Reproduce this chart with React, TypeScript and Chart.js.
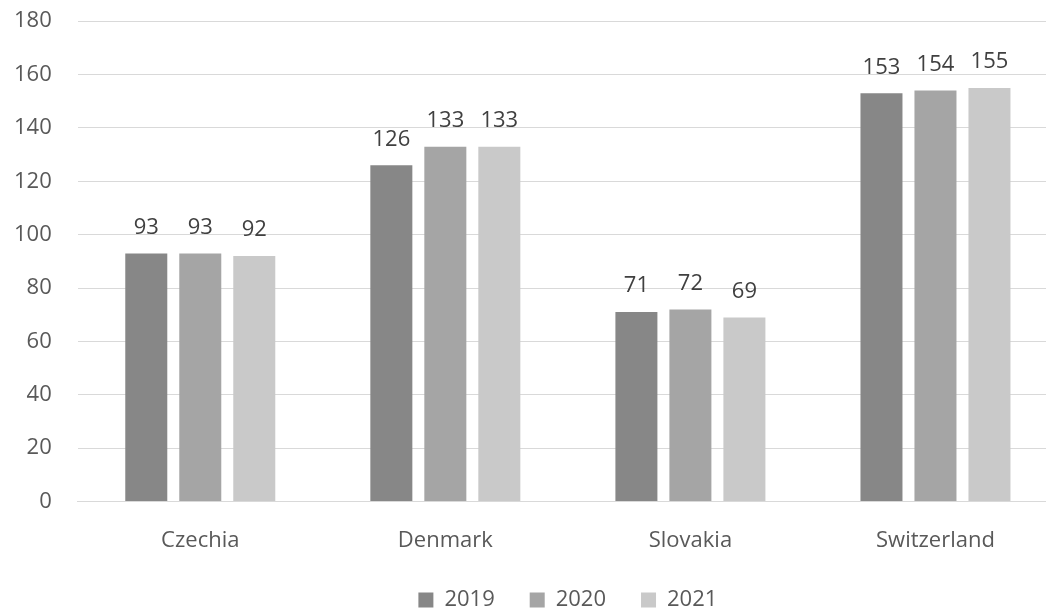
import React, { useEffect, useRef } from "react";
import { Chart, registerables } from "chart.js";

Chart.register(...registerables);

const categories = ["Czechia", "Denmark", "Slovakia", "Switzerland"];
const seriesNames = ["2019", "2020", "2021"];
const values2019 = [93, 126, 71, 153];
const values2020 = [93, 133, 72, 154];
const values2021 = [92, 133, 69, 155];
const seriesColors = ["#878787", "#a5a5a5", "#c9c9c9"];
const FONT = "'Open Sans', 'DejaVu Sans', sans-serif";

const labelPlugin = {
  id: "barLabels",
  afterDatasetsDraw(chart: any) {
    const ctx = chart.ctx;
    ctx.save();
    ctx.font = `22px ${FONT}`;
    ctx.fillStyle = "#404040";
    ctx.textAlign = "center";
    ctx.textBaseline = "bottom";
    chart.data.datasets.forEach((ds: any, i: number) => {
      const meta = chart.getDatasetMeta(i);
      meta.data.forEach((el: any, j: number) => {
        ctx.fillText(String(ds.data[j]), el.x, el.y - 15);
      });
    });
    ctx.restore();
  },
};

const CANVAS_W = 1060;

export default function App() {
  const ref = useRef<HTMLCanvasElement>(null);
  useEffect(() => {
    document.body.style.margin = "0";
    const data = [values2019, values2020, values2021];
    const chart = new Chart(ref.current!, {
      type: "bar",
      data: {
        labels: categories,
        datasets: seriesNames.map((n, i) => ({
          label: n,
          data: data[i],
          backgroundColor: seriesColors[i],
          borderWidth: 0,
          categoryPercentage: 0.661,
          barPercentage: 0.778,
        })),
      },
      options: {
        animation: false,
        responsive: false,
        maintainAspectRatio: false,
        layout: { padding: { top: 0, right: 2, left: 6, bottom: -13 } },
        plugins: {
          tooltip: { enabled: false },
          legend: {
            position: "bottom",
            fullSize: false,
            labels: {
              boxWidth: 15,
              boxHeight: 15,
              padding: 35,
              color: "#595959",
              font: { family: FONT, size: 22 },
            },
          },
        },
        scales: {
          x: {
            grid: { display: false, drawTicks: true, tickLength: 26 },
            border: { color: "#d9d9d9", width: 1 },
            ticks: {
              color: "#595959",
              font: { family: FONT, size: 22 },
              padding: 0,
            },
          },
          y: {
            min: 0,
            max: 180,
            border: { display: false },
            grid: { color: "#d9d9d9", drawTicks: true, tickLength: 18, tickColor: "rgba(0,0,0,0)" },
            ticks: {
              stepSize: 20,
              color: "#595959",
              font: { family: FONT, size: 22 },
              padding: 8,
            },
          },
        },
      },
      plugins: [labelPlugin],
    });
    return () => chart.destroy();
  }, []);
  return (
    <div style={{ width: 1046, height: 608, overflow: "hidden" }}>
      <canvas
        ref={ref}
        width={CANVAS_W}
        height={608}
        style={{ width: CANVAS_W, height: 608, display: "block" }}
      />
    </div>
  );
}
